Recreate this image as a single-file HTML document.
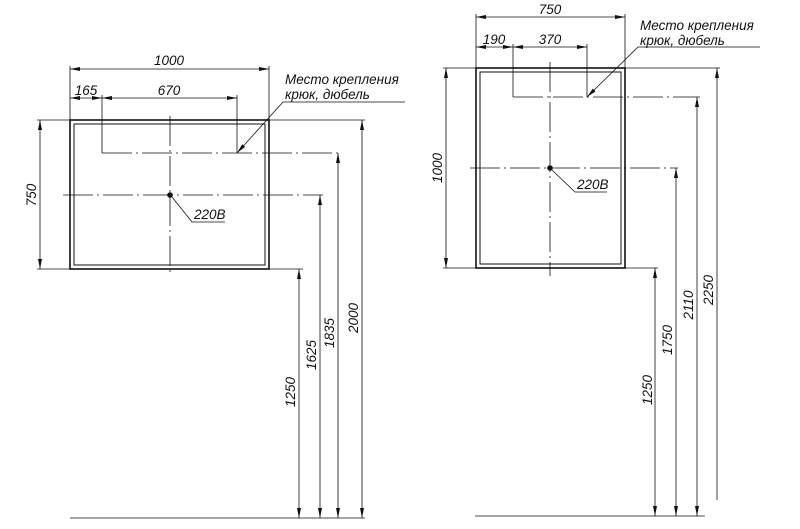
<!DOCTYPE html>
<html><head><meta charset="utf-8"><style>
html,body{margin:0;padding:0;background:#fff;}
svg{display:block;}
text{font-family:"Liberation Sans",sans-serif;font-style:italic;font-size:13.5px;fill:#111;}
</style></head><body>
<svg width="800" height="529" viewBox="0 0 800 529" xmlns="http://www.w3.org/2000/svg">
<defs>
<marker id="a" viewBox="0 0 10 4" refX="10" refY="2" markerWidth="10" markerHeight="4" orient="auto-start-reverse" markerUnits="userSpaceOnUse">
<path d="M0,0 L10,2 L0,4 z" fill="#111"/></marker>
</defs>
<g stroke="#111" fill="none" stroke-width="0.8">
<!-- LEFT -->
<rect x="70" y="120" width="199" height="149" stroke-width="1.6"/>
<rect x="74" y="124" width="191" height="141" stroke-width="1"/>
<line x1="70" y1="66" x2="70" y2="120"/><line x1="269" y1="66" x2="269" y2="120"/>
<line x1="70" y1="69" x2="269" y2="69" marker-start="url(#a)" marker-end="url(#a)"/>
<line x1="70" y1="98" x2="102" y2="98" marker-start="url(#a)" marker-end="url(#a)"/>
<line x1="102" y1="98" x2="237" y2="98" marker-start="url(#a)" marker-end="url(#a)"/>
<line x1="102" y1="95" x2="102" y2="153"/><line x1="237" y1="95" x2="237" y2="153"/>
<line x1="102" y1="153" x2="340" y2="153" stroke-dasharray="30,4,2,4"/>
<line x1="170" y1="116" x2="170" y2="276" stroke-dasharray="30,4,2,4"/>
<line x1="63" y1="195" x2="323" y2="195" stroke-dasharray="30,4,2,4"/>
<line x1="37" y1="120" x2="70" y2="120"/><line x1="37" y1="269" x2="70" y2="269"/>
<line x1="40" y1="120" x2="40" y2="269" marker-start="url(#a)" marker-end="url(#a)"/>
<line x1="269" y1="120" x2="365" y2="120"/>
<line x1="269" y1="269" x2="303" y2="269"/>
<line x1="70" y1="518" x2="365" y2="518"/>
<line x1="362" y1="120" x2="362" y2="518" marker-start="url(#a)" marker-end="url(#a)"/>
<line x1="338" y1="153" x2="338" y2="518" marker-start="url(#a)" marker-end="url(#a)"/>
<line x1="320" y1="195" x2="320" y2="518" marker-start="url(#a)" marker-end="url(#a)"/>
<line x1="299" y1="269" x2="299" y2="518" marker-start="url(#a)" marker-end="url(#a)"/>
<polyline points="225,222 192,222 172,197"/>
<polyline points="405,102 283,102 237,153" marker-end="url(#a)"/>
<!-- RIGHT -->
<rect x="476" y="68" width="149" height="200" stroke-width="1.6"/>
<rect x="480" y="72" width="141" height="192" stroke-width="1"/>
<line x1="476" y1="14" x2="476" y2="68"/><line x1="625" y1="14" x2="625" y2="68"/>
<line x1="476" y1="17" x2="625" y2="17" marker-start="url(#a)" marker-end="url(#a)"/>
<line x1="476" y1="47" x2="513" y2="47" marker-start="url(#a)" marker-end="url(#a)"/>
<line x1="513" y1="47" x2="587" y2="47" marker-start="url(#a)" marker-end="url(#a)"/>
<line x1="513" y1="44" x2="513" y2="97"/><line x1="587" y1="44" x2="587" y2="97"/>
<line x1="513" y1="97" x2="700" y2="97" stroke-dasharray="30,4,2,4"/>
<line x1="550" y1="62" x2="550" y2="276" stroke-dasharray="30,4,2,4"/>
<line x1="470" y1="168" x2="678" y2="168" stroke-dasharray="30,4,2,4"/>
<line x1="443" y1="68" x2="476" y2="68"/><line x1="443" y1="268" x2="476" y2="268"/>
<line x1="446" y1="68" x2="446" y2="268" marker-start="url(#a)" marker-end="url(#a)"/>
<line x1="625" y1="68" x2="720" y2="68"/>
<line x1="625" y1="268" x2="658" y2="268"/>
<line x1="475" y1="516" x2="705" y2="516"/>
<line x1="717" y1="68" x2="717" y2="500" marker-start="url(#a)"/>
<line x1="697" y1="97" x2="697" y2="516" marker-start="url(#a)" marker-end="url(#a)"/>
<line x1="676" y1="168" x2="676" y2="516" marker-start="url(#a)" marker-end="url(#a)"/>
<line x1="655" y1="268" x2="655" y2="516" marker-start="url(#a)" marker-end="url(#a)"/>
<polyline points="607,192 575,192 552,170"/>
<polyline points="760,47 638,47 587,97" marker-end="url(#a)"/>
</g>
<circle cx="170" cy="195" r="2.8" fill="#111"/>
<circle cx="550" cy="168" r="2.8" fill="#111"/>
<!-- left text -->
<text x="169" y="65" text-anchor="middle">1000</text>
<text x="86" y="95" text-anchor="middle">165</text>
<text x="169" y="95" text-anchor="middle">670</text>
<text x="285" y="84" font-size="15">Место крепления</text>
<text x="285" y="99" font-size="15">крюк, дюбель</text>
<text x="194" y="219">220В</text>
<text transform="translate(36,195) rotate(-90)" text-anchor="middle">750</text>
<text transform="translate(295,392) rotate(-90)" text-anchor="middle">1250</text>
<text transform="translate(316,355) rotate(-90)" text-anchor="middle">1625</text>
<text transform="translate(334,333) rotate(-90)" text-anchor="middle">1835</text>
<text transform="translate(358,318) rotate(-90)" text-anchor="middle">2000</text>
<!-- right text -->
<text x="550" y="14" text-anchor="middle">750</text>
<text x="494" y="44" text-anchor="middle">190</text>
<text x="550" y="44" text-anchor="middle">370</text>
<text x="640" y="30" font-size="15">Место крепления</text>
<text x="640" y="45" font-size="15">крюк, дюбель</text>
<text x="577" y="189">220В</text>
<text transform="translate(442,168) rotate(-90)" text-anchor="middle">1000</text>
<text transform="translate(652,390) rotate(-90)" text-anchor="middle">1250</text>
<text transform="translate(672,340) rotate(-90)" text-anchor="middle">1750</text>
<text transform="translate(693,305) rotate(-90)" text-anchor="middle">2110</text>
<text transform="translate(713,290) rotate(-90)" text-anchor="middle">2250</text>
</svg>
</body></html>
